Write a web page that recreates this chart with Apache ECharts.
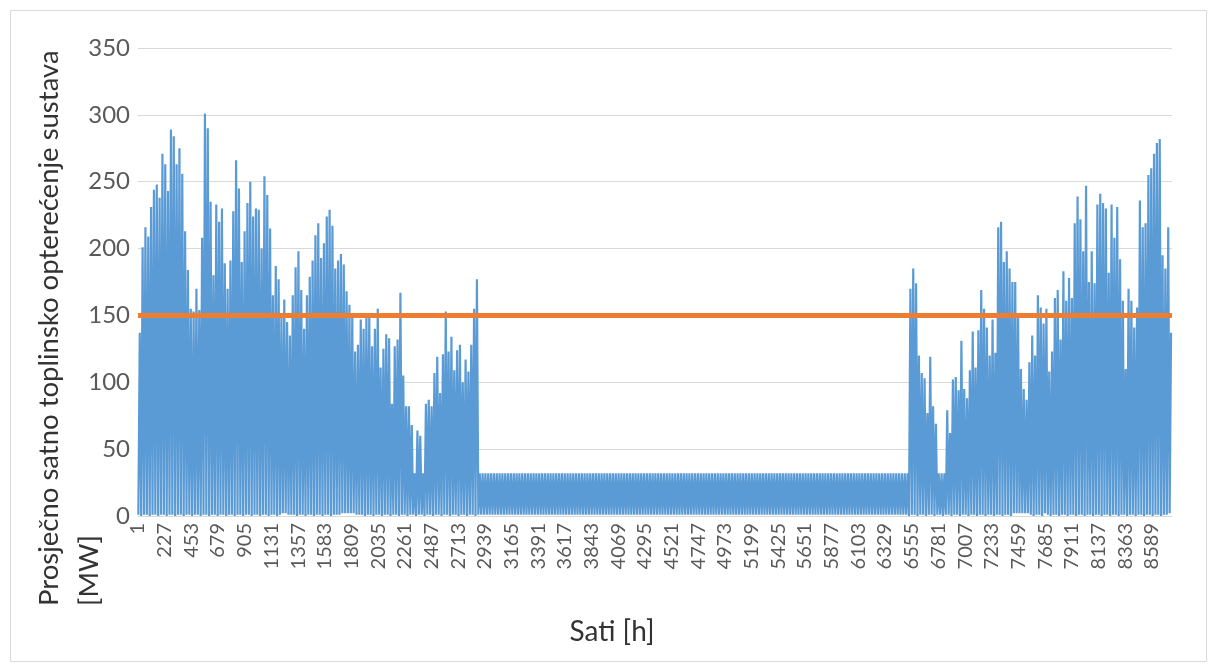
<!DOCTYPE html>
<html>
<head>
<meta charset="utf-8">
<script src="https://cdn.jsdelivr.net/npm/echarts/dist/echarts.min.js"></script>
<style>
html,body{margin:0;padding:0;background:#ffffff;}
#chart{width:1209px;height:665px;}
</style>
</head>
<body>
<div id="chart"></div>
<script>
// ---------- DATA ----------
// Hour categories 1..8760 (x axis)
const hourCount = 8760;
const hours = [];
for (let h = 1; h <= hourCount; h++) hours.push(String(h));

// Y axis ticks
const yTicks = [0, 50, 100, 150, 200, 250, 300, 350];

// Daily peak of the hourly heat load [MW] (365 days)
const dailyPeak = [
  137,201,216,209,231,244,248,238,271,263,
  243,289,284,263,275,256,213,184,155,153,
  170,154,208,301,290,235,180,233,220,230,
  189,170,191,228,266,245,190,213,234,250,
  224,230,229,200,254,240,215,165,187,177,
  150,162,145,135,165,186,198,169,140,165,
  179,191,210,219,193,204,224,229,217,185,
  191,196,188,168,158,150,123,128,147,140,
  148,150,127,140,155,111,125,136,133,84,
  127,132,167,105,82,82,68,32,64,60,
  32,84,87,82,107,119,92,121,153,123,
  134,109,124,128,100,117,108,128,155,177,
  32,32,32,32,32,32,32,32,32,32,
  32,32,32,32,32,32,32,32,32,32,
  32,32,32,32,32,32,32,32,32,32,
  32,32,32,32,32,32,32,32,32,32,
  32,32,32,32,32,32,32,32,32,32,
  32,32,32,32,32,32,32,32,32,32,
  32,32,32,32,32,32,32,32,32,32,
  32,32,32,32,32,32,32,32,32,32,
  32,32,32,32,32,32,32,32,32,32,
  32,32,32,32,32,32,32,32,32,32,
  32,32,32,32,32,32,32,32,32,32,
  32,32,32,32,32,32,32,32,32,32,
  32,32,32,32,32,32,32,32,32,32,
  32,32,32,32,32,32,32,32,32,32,
  32,32,32,32,32,32,32,32,32,32,
  32,32,170,185,174,120,107,103,77,119,
  82,69,32,32,32,79,62,102,104,94,
  131,95,88,109,138,111,139,169,155,141,
  120,147,122,216,220,190,198,185,175,175,
  150,110,95,87,115,135,120,165,156,144,
  155,108,123,163,169,132,183,161,178,163,
  219,239,222,198,247,175,198,174,233,241,
  234,230,182,233,208,231,192,161,110,170,
  161,141,156,236,216,219,255,260,271,279,
  282,195,185,216,137
];

// Daily minimum of the hourly heat load [MW] (365 days)
const dailyLow = [
  1,0,1,1,0,1,1,0,1,1,
  0,1,1,0,1,1,0,1,1,0,
  1,1,0,1,1,0,1,1,0,1,
  1,0,1,1,0,1,1,0,1,1,
  0,1,1,0,1,1,0,1,1,0,
  1,2,2,1,1,1,0,1,1,0,
  1,1,0,1,1,0,1,1,0,1,
  1,1,2,2,2,2,2,1,1,1,
  0,1,1,0,1,1,0,1,1,0,
  1,1,0,1,1,0,1,1,0,1,
  1,0,1,1,0,1,1,0,1,1,
  0,1,1,0,1,1,0,1,1,0,
  1,1,1,1,1,1,1,1,1,1,
  1,1,1,1,1,1,1,1,1,1,
  1,1,1,1,1,1,1,1,1,1,
  1,1,1,1,1,1,1,1,1,1,
  1,1,1,1,1,1,1,1,1,1,
  1,1,1,1,1,1,1,1,1,1,
  1,1,1,1,1,1,1,1,1,1,
  1,1,1,1,1,1,1,1,1,1,
  1,1,1,1,1,1,1,1,1,1,
  1,1,1,1,1,1,1,1,1,1,
  1,1,1,1,1,1,1,1,1,1,
  1,1,1,1,1,1,1,1,1,1,
  1,1,1,1,1,1,1,1,1,1,
  1,1,1,1,1,1,1,1,1,1,
  1,1,1,1,1,1,1,1,1,1,
  1,1,0,1,1,0,1,1,0,1,
  1,0,1,1,0,1,1,0,1,1,
  0,1,1,0,1,1,0,1,1,0,
  1,1,0,1,1,0,1,1,0,2,
  2,2,2,2,2,1,0,1,1,0,
  2,1,0,1,1,0,1,1,0,1,
  1,0,1,1,0,1,1,0,1,1,
  0,1,1,0,1,1,0,1,1,0,
  1,1,0,1,1,0,1,1,0,1,
  1,0,1,1,2
];

// Hour of day at which the daily low / peak occur
const lowHourOfDay = 3;
const peakHourOfDay = 15;

// Threshold line [MW]
const thresholdValues = [150, 150];

// ---------- BUILD ----------
const loadData = [];
for (let d = 0; d < dailyPeak.length; d++) {
  loadData.push([d * 24 + lowHourOfDay, dailyLow[d]]);
  loadData.push([d * 24 + peakHourOfDay, dailyPeak[d]]);
}
const thresholdData = [[0, thresholdValues[0]], [hourCount - 1, thresholdValues[1]]];

const FONT = 'Lato';
const chart = echarts.init(document.getElementById('chart'), null, {renderer: 'canvas'});
chart.setOption({
  animation: false,
  backgroundColor: '#ffffff',
  grid: {left: 138, right: 37, top: 48, bottom: 149, containLabel: false},
  xAxis: {
    type: 'category',
    data: hours,
    boundaryGap: false,
    axisLine: {show: true, lineStyle: {color: '#D9D9D9', width: 1}},
    axisTick: {show: false},
    axisLabel: {
      interval: 225,
      rotate: 90,
      margin: 7,
      color: '#595959',
      fontFamily: FONT,
      fontSize: 20
    },
    splitLine: {show: false}
  },
  yAxis: {
    type: 'value',
    min: yTicks[0],
    max: yTicks[yTicks.length - 1],
    interval: 50,
    axisLine: {show: false},
    axisTick: {show: false},
    axisLabel: {margin: 8, color: '#595959', fontFamily: FONT, fontSize: 24},
    splitLine: {lineStyle: {color: '#D9D9D9', width: 1}}
  },
  series: [
    {
      type: 'line',
      data: loadData,
      showSymbol: false,
      symbol: 'none',
      lineStyle: {color: '#5B9BD5', width: 2.2},
      silent: true,
      z: 2
    },
    {
      type: 'line',
      data: thresholdData,
      showSymbol: false,
      symbol: 'none',
      lineStyle: {color: '#ED7D31', width: 5},
      silent: true,
      z: 3
    }
  ],
  graphic: [
    {
      type: 'rect',
      shape: {x: 10.5, y: 10.5, width: 1196, height: 651},
      style: {fill: 'none', stroke: '#D9D9D9', lineWidth: 1},
      silent: true
    },
    {
      type: 'text',
      x: 29,
      y: 606,
      rotation: Math.PI / 2,
      style: {
        text: 'Prosječno satno toplinsko opterećenje sustava\n[MW]',
        font: '27.5px ' + FONT,
        fill: '#333333',
        textAlign: 'left',
        textVerticalAlign: 'top',
        lineHeight: 40
      }
    },
    {
      type: 'text',
      x: 612,
      y: 632,
      style: {
        text: 'Sati [h]',
        font: '28px ' + FONT,
        fill: '#333333',
        textAlign: 'center',
        textVerticalAlign: 'middle'
      }
    }
  ]
});
</script>
</body>
</html>
